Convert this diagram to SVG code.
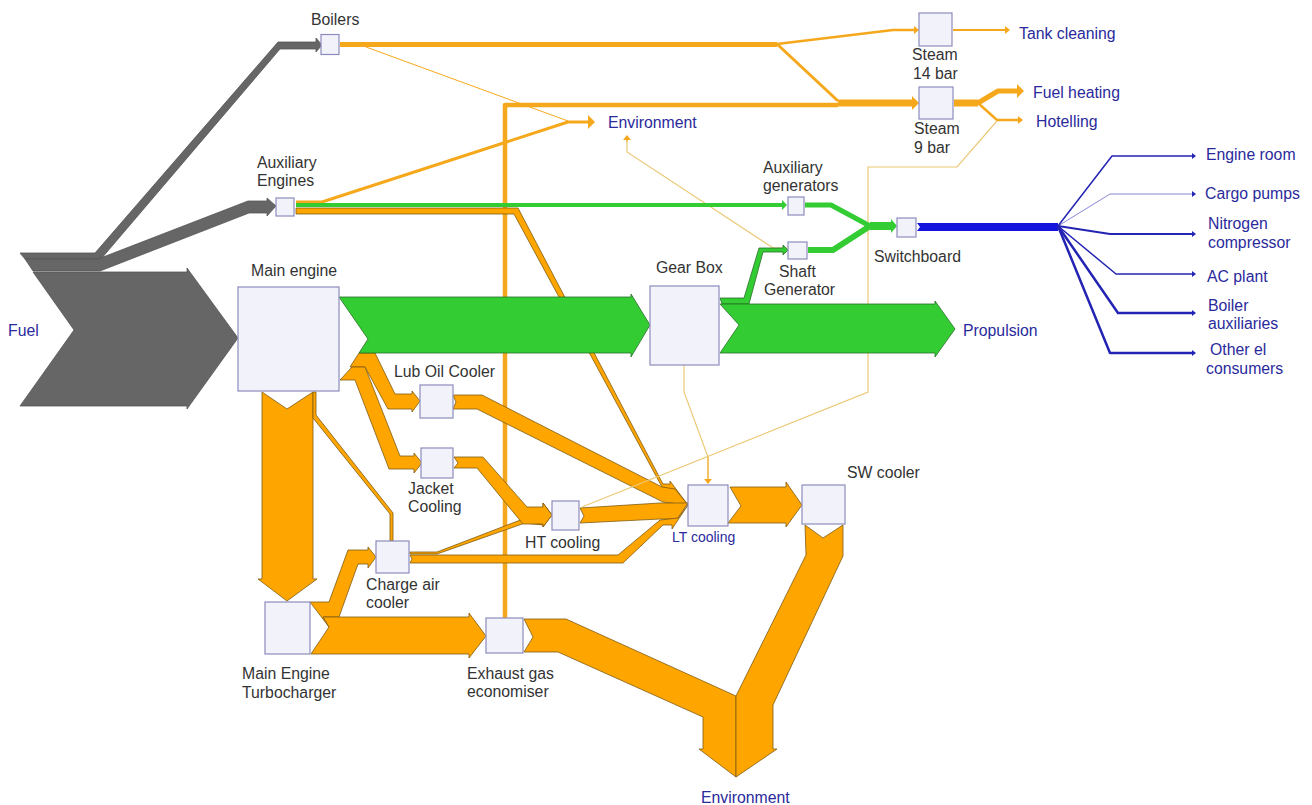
<svg xmlns="http://www.w3.org/2000/svg" width="1312" height="805" viewBox="0 0 1312 805">
<style>
text{font-family:"Liberation Sans",Arial,sans-serif;font-size:15.800px;fill:#333}
.t{fill:#2a2a9c}
.box{fill:#f2f2fa;stroke:#8c8cbc;stroke-width:1.2}
.o{fill:#ffa500;stroke:#7d5c12;stroke-width:.8;stroke-linejoin:round}
.g{fill:#33cc33;stroke:#2a6e2a;stroke-width:.8}
.k{fill:#666;stroke:#555;stroke-width:.8}
.l{fill:none;stroke:#f6a81c;stroke-linejoin:round}
.tan{fill:none;stroke:#ecc977;stroke-width:1.2}
.gl{fill:none;stroke:#33cc33;stroke-linejoin:round}
.b{fill:none;stroke:#2424b4;stroke-linejoin:round}
</style>
<defs>
<marker id="ao" markerUnits="userSpaceOnUse" markerWidth="9" markerHeight="14" refX="1" refY="7" orient="auto"><path d="M1 0L8 7L1 14Z" fill="#f6a81c"/></marker>
<marker id="as" markerUnits="userSpaceOnUse" markerWidth="7" markerHeight="8" refX="1" refY="4" orient="auto"><path d="M1 0L6 4L1 8Z" fill="#f6a81c"/></marker>
<marker id="ab" markerUnits="userSpaceOnUse" markerWidth="6" markerHeight="8" refX="1" refY="4" orient="auto"><path d="M1 1L5 4L1 7Z" fill="#2424b4"/></marker>
<marker id="ag" markerUnits="userSpaceOnUse" markerWidth="8" markerHeight="14" refX="1" refY="7" orient="auto"><path d="M1 0L7 7L1 14Z" fill="#33cc33"/></marker>
<marker id="ags" markerUnits="userSpaceOnUse" markerWidth="7" markerHeight="10" refX="1" refY="5" orient="auto"><path d="M1 0L6 5L1 10Z" fill="#33cc33"/></marker>
</defs>
<g id="connectors">
<path class="l" stroke-width="4.500" d="M505 618V105H838"/>
<path class="k" d="M20 253H95L278 42H316V38L322 45L316 52V49H280L101 259H25Z"/>
<path class="k" d="M25 259H98L248 201H267V198L276 206L267 216V213H249L100 271H33Z"/>
<path class="k" d="M33 272H187V268L238 338L187 409V406H20L74 330Z"/>
<path class="l" stroke-width="5" d="M340 44.500H777"/>
<path class="l" stroke-width="2.500" d="M777 44L893 30H914" marker-end="url(#as)"/>
<path class="l" stroke-width="3" d="M777 44L838 101"/>
<path class="l" stroke-width="7" d="M838 103H912" marker-end="url(#ao)"/>
<path class="l" stroke-width="2" d="M953 30H1005" marker-end="url(#as)"/>
<path class="l" stroke-width="7" d="M954 103H978"/>
<path class="l" stroke-width="5" d="M978 103L998 91H1017" marker-end="url(#ao)"/>
<path class="l" stroke-width="2.500" d="M978 103L997 120H1018" marker-end="url(#as)"/>
<path class="l" stroke-width="1" d="M366 47L568 121"/>
<path class="l" stroke-width="3" d="M296 202H322L568 122H588" marker-end="url(#ao)"/>
<path class="o" d="M296 208H518L663 484H670V481L688 505L662 487L514 214H296Z"/>
<path class="o" d="M453 395H482L662 487L675 489L688 505L663 502L477 409H453L456 402Z"/>
<path class="o" d="M580 508L660 503H688L677 519H660L580 523L584 516Z"/>
<path class="o" d="M410 555H618L660 520L678 518L688 505L672 529V525H663L623 563H410L412 559Z"/>
<path class="o" d="M359 353H375L395 394H412V391L420 401L412 412V409H388L365 367H350Z"/>
<path class="o" d="M352 367H365L400 456H414V453L422 463L414 473V469H389L355 380H340Z"/>
<path class="o" d="M262 392L287 409L313 392V579H317L287 601L258 579H262Z"/>
<path class="o" d="M313 392H316V415L393 513V541H390V514L313 418Z"/>
<path class="o" d="M310 602H329L348 550H368V547L376 557L368 568V564H358L339 617H323L329 627Z"/>
<path class="o" d="M323 617H469V613L486 636L469 658V654H311L329 627Z"/>
<path class="o" d="M410 552H437L523 519H543V503L552 515L543 527V525L525 523L437 554H410Z"/>
<path class="o" d="M454 457H483L527 507H543V503L552 515L543 527V524H523L477 468H454L458 463Z"/>
<path class="o" d="M730 487H786V482L802 505L786 527V523H728L741 506Z"/>
<path class="o" d="M524 619H566L736 696V777L699 749H703V717L558 652H524L533 637Z"/>
<path class="o" d="M805 525L823 538L843 525V556L773 705V749H777L736 777V696L806 555Z"/>
<path class="tan" d="M582 507L868 392V167H957L997 121"/>
<path class="tan" d="M684 365V392L708 457V481"/>
<path class="l" stroke-width="1" d="M708 457V479" marker-end="url(#as)"/>
<path class="tan" d="M787 248H773L627 152V138"/>
<path class="l" stroke-width="1" d="M627 142V140" marker-end="url(#as)"/>
<path class="gl" stroke-width="4" d="M296 205H782" marker-end="url(#ags)"/>
<path class="g" d="M339 297H631V294L650 325L631 357V353H359L368 339Z"/>
<path class="g" d="M720 298H744L759 248H783V245L788 250L783 255V252H763L749 304H722Z"/>
<path class="g" d="M720 304H935V301L955 329L935 357V353H720L739 325Z"/>
<path class="gl" stroke-width="5" d="M805 205H831L870 226"/>
<path class="gl" stroke-width="6" d="M808 250H833L870 226"/>
<path class="gl" stroke-width="8" d="M870 226H891" marker-end="url(#ag)"/>
<path d="M917 223H1058V231H917L920 227Z" fill="#1414dc"/>
<path class="b" stroke-width="1.500" d="M1058 226L1112 156H1192" marker-end="url(#ab)"/>
<path class="b" stroke-width="1" stroke-opacity=".55" d="M1058 226L1110 194H1192" marker-end="url(#ab)"/>
<path class="b" stroke-width="2" d="M1058 226L1110 234H1192" marker-end="url(#ab)"/>
<path class="b" stroke-width="1.500" d="M1058 226L1116 274H1192" marker-end="url(#ab)"/>
<path class="b" stroke-width="2.500" d="M1058 226L1118 313H1192" marker-end="url(#ab)"/>
<path class="b" stroke-width="2.500" d="M1058 226L1110 353H1192" marker-end="url(#ab)"/>
</g>
<g id="boilers"><rect class="box" x="321" y="34.500" width="18" height="20"/><text x="311" y="25">Boilers</text></g>
<g id="aux-engines"><rect class="box" x="276" y="198" width="18" height="18"/><text x="257" y="168">Auxiliary</text><text x="257" y="186">Engines</text></g>
<g id="main-engine"><rect class="box" x="238" y="287" width="101" height="104"/><text x="251" y="276">Main engine</text></g>
<g id="lub-oil"><rect class="box" x="420" y="385" width="33" height="33"/><text x="394" y="377">Lub Oil Cooler</text></g>
<g id="jacket"><rect class="box" x="421" y="448" width="32" height="30"/><text x="408" y="494">Jacket</text><text x="408" y="512">Cooling</text></g>
<g id="ht-cooling"><rect class="box" x="552" y="501" width="27" height="29"/><text x="525" y="548">HT cooling</text></g>
<g id="charge-air"><rect class="box" x="376" y="541" width="33" height="32"/><text x="366" y="590">Charge air</text><text x="366" y="608">cooler</text></g>
<g id="turbocharger"><rect class="box" x="265" y="602" width="45" height="52"/><text x="242" y="679">Main Engine</text><text x="242" y="698">Turbocharger</text></g>
<g id="economiser"><rect class="box" x="486" y="618" width="37" height="35"/><text x="467" y="679">Exhaust gas</text><text x="467" y="697">economiser</text></g>
<g id="lt-cooling"><rect class="box" x="688" y="485" width="40" height="41"/><text class="t" x="672" y="542" style="font-size:14px">LT cooling</text></g>
<g id="sw-cooler"><rect class="box" x="802" y="485" width="43" height="39"/><text x="847" y="478">SW cooler</text></g>
<g id="gear-box"><rect class="box" x="650" y="286" width="69" height="79"/><text x="656" y="273">Gear Box</text></g>
<g id="aux-generators"><rect class="box" x="788" y="197" width="16" height="18"/><text x="763" y="173">Auxiliary</text><text x="763" y="191">generators</text></g>
<g id="shaft-generator"><rect class="box" x="788" y="242" width="19" height="17"/><text x="779" y="277">Shaft</text><text x="764" y="295">Generator</text></g>
<g id="switchboard"><rect class="box" x="897" y="218" width="19" height="19"/><text x="874" y="262">Switchboard</text></g>
<g id="steam-14"><rect class="box" x="919" y="13" width="33" height="33"/><text x="912" y="60">Steam</text><text x="913" y="79">14 bar</text></g>
<g id="steam-9"><rect class="box" x="919" y="87" width="34" height="32"/><text x="914" y="134">Steam</text><text x="914" y="153">9 bar</text></g>
<g id="terminals">
<text class="t" x="8" y="336">Fuel</text>
<text class="t" x="608" y="128">Environment</text>
<text class="t" x="701" y="803">Environment</text>
<text class="t" x="963" y="336">Propulsion</text>
<text class="t" x="1019" y="39">Tank cleaning</text>
<text class="t" x="1033" y="98">Fuel heating</text>
<text class="t" x="1036" y="127">Hotelling</text>
<text class="t" x="1206" y="160">Engine room</text>
<text class="t" x="1205" y="199">Cargo pumps</text>
<text class="t" x="1208" y="229">Nitrogen</text>
<text class="t" x="1208" y="248">compressor</text>
<text class="t" x="1207" y="282">AC plant</text>
<text class="t" x="1208" y="311">Boiler</text>
<text class="t" x="1208" y="329">auxiliaries</text>
<text class="t" x="1210" y="355">Other el</text>
<text class="t" x="1206" y="374">consumers</text>
</g>
</svg>
